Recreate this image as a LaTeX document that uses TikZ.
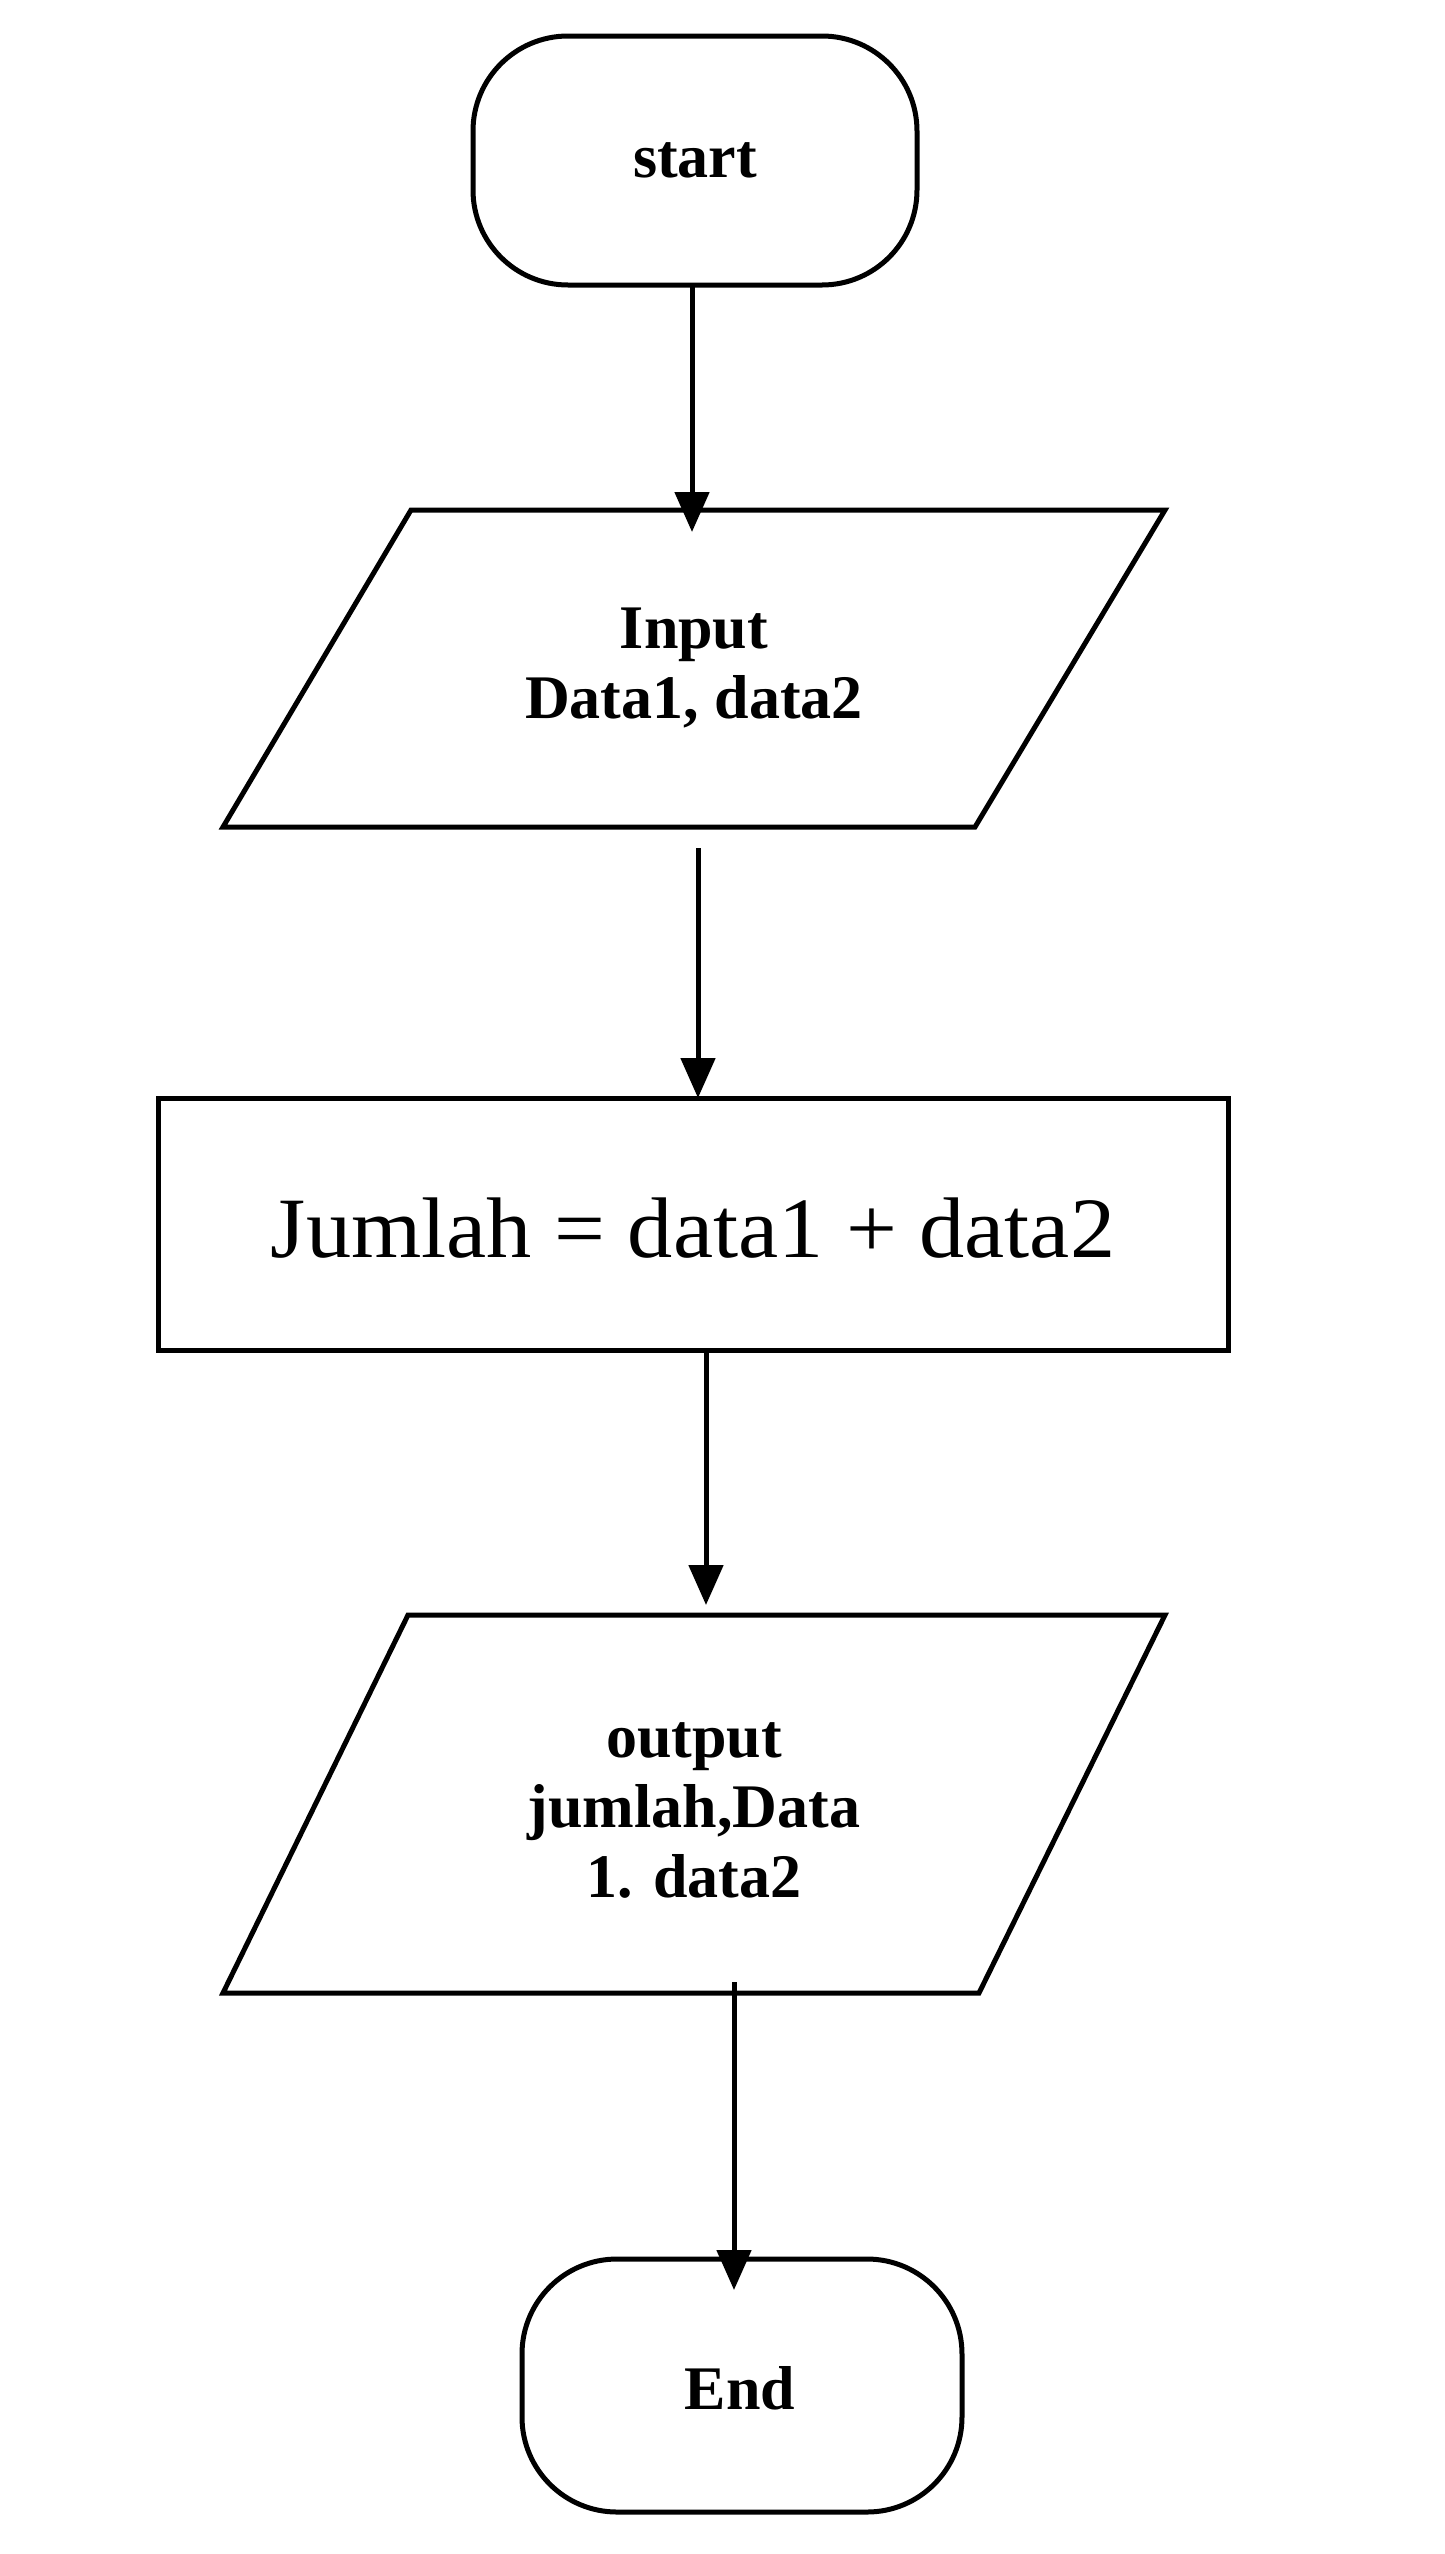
\documentclass[tikz,border=0pt]{standalone}
\usepackage{fontspec}
\setmainfont{Liberation Serif}
\usetikzlibrary{arrows.meta}
\begin{document}
\begin{tikzpicture}[x=1pt,y=-1pt,
  shp/.style={draw,line width=5pt},
  arr/.style={line width=5pt,-{Triangle[length=40pt,width=34pt]}},
  lbl/.style={font=\fontsize{62}{70}\selectfont\bfseries,align=center}]
\useasboundingbox (0,0) rectangle (1445,2554);
% start
\draw[shp,rounded corners=95pt] (473,36) rectangle (917,285);
\node[lbl] (s) at (695,160) {start};
% input
\draw[shp] (411,510) -- (1165,510) -- (975,827) -- (223,827) -- cycle;
\node[lbl] (in) at (694,668) {Input\\Data1, data2};
% process
\draw[shp] (158,1098) rectangle (1228,1350);
\node[font=\fontsize{86}{96}\selectfont,xscale=1.05] (p) at (693,1228) {Jumlah = data1 + data2};
% output
\draw[shp] (408,1615) -- (1165,1615) -- (979,1993) -- (223,1993) -- cycle;
\node[lbl] (out) at (694,1810) {output\\jumlah,Data\\1. data2};
% end
\draw[shp,rounded corners=95pt] (522,2259) rectangle (962,2512);
\node[lbl] (e) at (740,2388) {End};
% arrows
\coordinate (a1) at (692,285); \coordinate (b1) at (692,532);
\coordinate (a2) at (698,848); \coordinate (b2) at (698,1098);
\coordinate (a3) at (706,1350); \coordinate (b3) at (706,1605);
\coordinate (a4) at (734,1982); \coordinate (b4) at (734,2290);
\draw[arr] (a1) -- (b1);
\draw[arr] (a2) -- (b2);
\draw[arr] (a3) -- (b3);
\draw[arr] (a4) -- (b4);
\end{tikzpicture}
\end{document}
